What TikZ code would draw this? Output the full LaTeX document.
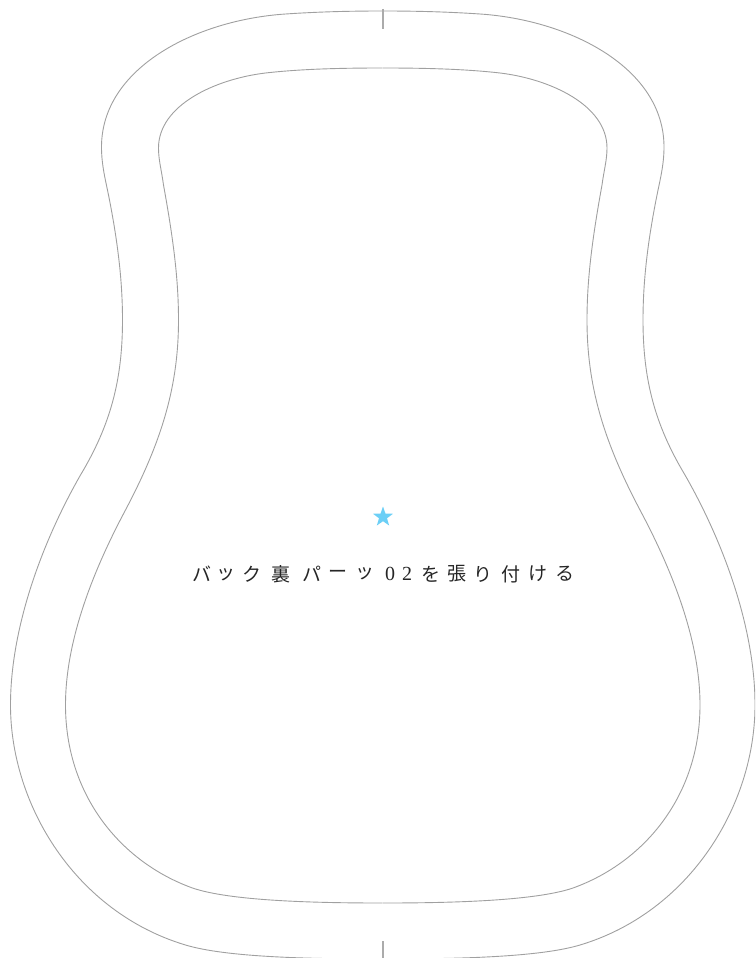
\documentclass[tikz,border=0pt]{standalone}
\usepackage{fontspec}
\usetikzlibrary{shapes.geometric}
\newfontfamily\jpfont{Noto Sans CJK JP}
\newfontfamily\digitfont{Liberation Serif}
\definecolor{starblue}{HTML}{6CCFF6}
\definecolor{linegray}{HTML}{A0A0A0}
\definecolor{tickgray}{HTML}{ABABAB}
\tikzset{
  outline/.style={draw=linegray,line width=0.9pt},
  tick/.style={draw=tickgray,line width=1.4pt},
  glyph/.style={inner sep=0pt,font=\jpfont\fontsize{19}{19}\selectfont,text=black!85},
  digit/.style={inner sep=0pt,font=\digitfont\fontsize{20}{20}\selectfont,text=black!85},
}
\newcommand{\halfouter}{(383,11) .. controls (420,11) and (450,12) .. (480,14)
  .. controls (570,20) and (664,68) .. (664,147)
  .. controls (664,165) and (660,180) .. (657,195)
  .. controls (648,240) and (643,280) .. (643,320)
  .. controls (643,380) and (655,425) .. (685,475)
  .. controls (725,545) and (755,630) .. (755,705)
  .. controls (755,805) and (690,912) .. (580,945)
  .. controls (540,957) and (460,959) .. (383,959)}
\newcommand{\halfinner}{(383,68) .. controls (425,68) and (465,69) .. (500,73)
  .. controls (550,79) and (607,105) .. (607,148)
  .. controls (607,160) and (604,170) .. (602,185)
  .. controls (592,240) and (587,280) .. (587,320)
  .. controls (587,385) and (603,440) .. (640,510)
  .. controls (672,570) and (700,640) .. (700,705)
  .. controls (700,795) and (645,862) .. (573,888)
  .. controls (535,901) and (450,903) .. (383,903)}
\begin{document}
\begin{tikzpicture}[x=1pt,y=-1pt]
\useasboundingbox (0,0) rectangle (755,958);
\clip (0,0) rectangle (755,958);
\draw[outline] \halfouter;
\draw[outline] \halfinner;
\begin{scope}[xshift=765.5pt,xscale=-1]
\draw[outline] \halfouter;
\draw[outline] \halfinner;
\end{scope}
\coordinate (topa) at (383,9);
\coordinate (topb) at (383,29);
\coordinate (bota) at (383,941);
\coordinate (botb) at (383,958);
\draw[tick] (topa) -- (topb);
\draw[tick] (bota) -- (botb);
\node[star,star points=5,star point ratio=2.5,fill=starblue,inner sep=0pt,minimum size=21pt] (mark) at (383,517) {};
\node[glyph] (g1) at (202,574) {バ};
\node[glyph] (g2) at (226,575) {ッ};
\node[glyph] (g3) at (252,574) {ク};
\node[glyph] (g4) at (281,574) {裏};
\node[glyph] (g5) at (312,574) {パ};
\node[glyph] (g6) at (338,574) {ー};
\node[glyph] (g7) at (365,574) {ッ};
\node[digit] (g8) at (390,574) {0};
\node[digit] (g9) at (407,574) {2};
\node[glyph] (g10) at (431,574) {を};
\node[glyph] (g11) at (457,574) {張};
\node[glyph] (g12) at (483,574) {り};
\node[glyph] (g13) at (511,574) {付};
\node[glyph] (g14) at (538,574) {け};
\node[glyph] (g15) at (565,574) {る};
\end{tikzpicture}
\end{document}
